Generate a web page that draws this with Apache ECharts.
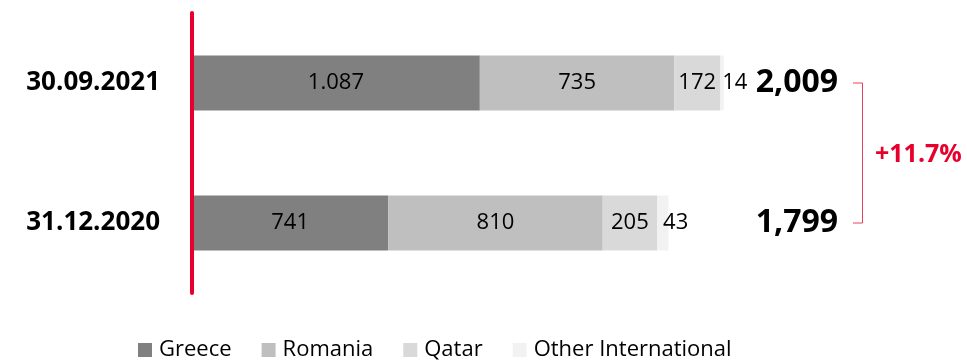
<!DOCTYPE html>
<html><head><meta charset="utf-8">
<script src="https://cdn.jsdelivr.net/npm/echarts@6/dist/echarts.min.js"></script>
<style>html,body{margin:0;padding:0;background:#fff}#c{width:967px;height:360px}</style>
</head><body><div id="c"></div>
<script>
// ---- data ----
const categories = ['30.09.2021', '31.12.2020'];
const seriesNames = ['Greece', 'Romania', 'Qatar', 'Other International'];
const greece = [1087, 741];
const romania = [735, 810];
const qatar = [172, 205];
const other = [14, 43];
const totals = [2009, 1799];
const changeLabel = '+11.7%';

// ---- style / layout ----
const colors = ['#808080', '#bfbfbf', '#d9d9d9', '#f2f2f2'];
const RED = '#e8002d';
const FONT = 'Open Sans';
const X_MAX = 2800;
const TOTAL_X = 2440;   // x-axis value where totals are right-aligned

const fmtDot = v => String(v).replace(/\B(?=(\d{3})+(?!\d))/g, '.');
const fmtComma = v => String(v).replace(/\B(?=(\d{3})+(?!\d))/g, ',');

const chart = echarts.init(document.getElementById('c'), null, {renderer: 'canvas'});

function barSeries(name, data, color, extraLabel) {
  return {
    name: name, type: 'bar', stack: 'total', data: data,
    barWidth: 55,
    itemStyle: {color: color},
    label: Object.assign({
      show: true, position: 'inside', color: '#000',
      fontFamily: FONT, fontSize: 22,
      formatter: p => fmtDot(p.value)
    }, extraLabel || {})
  };
}

const option = {
  animation: false,
  backgroundColor: '#fff',
  textStyle: {fontFamily: FONT},
  grid: {left: 192, top: 13, width: X_MAX * 0.2648, height: 280},
  xAxis: {type: 'value', min: 0, max: X_MAX, show: false},
  yAxis: {
    type: 'category', data: categories, inverse: true, z: 10,
    axisTick: {show: false},
    axisLine: {show: true, lineStyle: {color: RED, width: 4}},
    axisLabel: {margin: 32, fontSize: 26, fontWeight: 'bold', color: '#000', fontFamily: FONT}
  },
  legend: {
    data: seriesNames,
    left: 133, top: 334,
    icon: 'rect', itemWidth: 14, itemHeight: 14, itemGap: 30,
    textStyle: {fontSize: 22, color: '#000', fontFamily: FONT, padding: [0, 0, 0, 2]}
  },
  series: [
    barSeries(seriesNames[0], greece, colors[0]),
    barSeries(seriesNames[1], romania, colors[1]),
    barSeries(seriesNames[2], qatar, colors[2]),
    barSeries(seriesNames[3], other, colors[3], {offset: [13, 0]}),
    {
      name: 'Total', type: 'scatter', symbolSize: 0,
      itemStyle: {opacity: 1},
      data: totals.map((t, i) => [TOTAL_X, categories[i], t]),
      label: {
        show: true, position: 'left', distance: 0,
        fontFamily: FONT, fontSize: 32, fontWeight: 'bold', color: '#000',
        formatter: p => fmtComma(p.value[2])
      },
      silent: true
    }
  ]
};
chart.setOption(option);

// bracket annotation between the two totals
const y0 = chart.convertToPixel({yAxisIndex: 0}, categories[0]);
const y1 = chart.convertToPixel({yAxisIndex: 0}, categories[1]);
const bx = 862.5;
chart.setOption({
  graphic: [
    {
      type: 'polyline',
      shape: {points: [[853, y0], [bx, y0], [bx, y1], [853, y1]]},
      style: {stroke: '#e8405e', lineWidth: 1, fill: null}
    },
    {
      type: 'text', left: 875, top: (y0 + y1) / 2 + 3 - 14,
      style: {text: changeLabel, fill: RED, font: 'bold 25px "Open Sans"', textVerticalAlign: 'top'}
    }
  ]
});
</script>
</body></html>
